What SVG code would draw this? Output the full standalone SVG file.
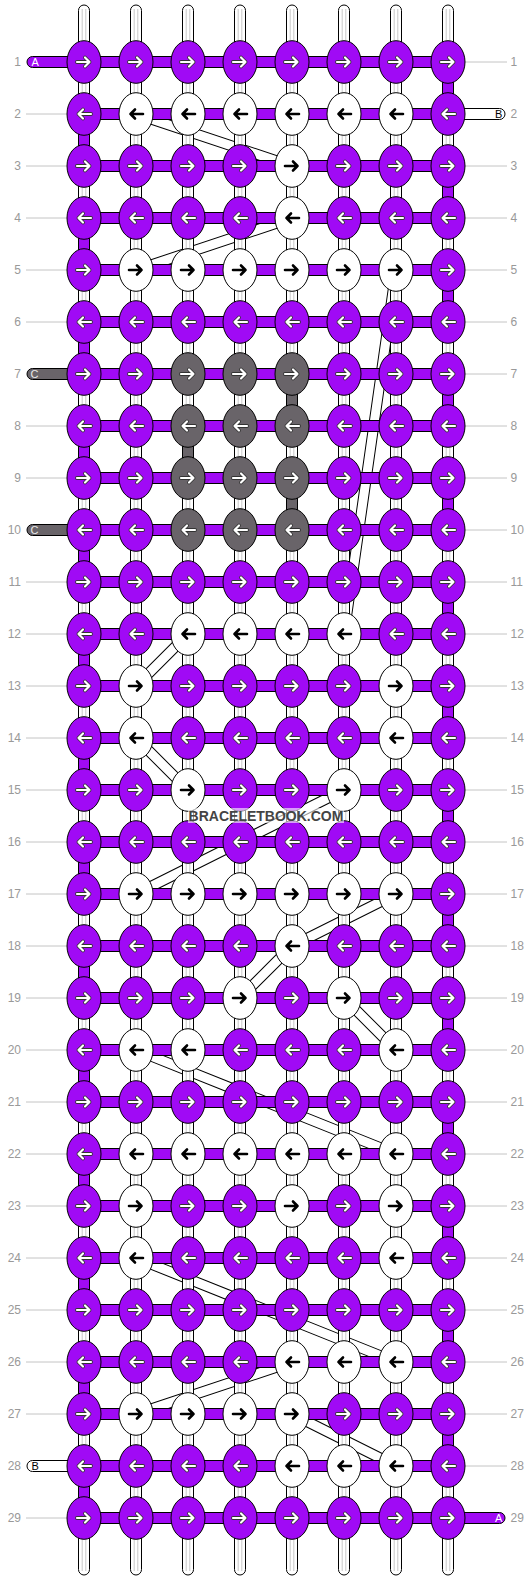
<svg xmlns="http://www.w3.org/2000/svg" xmlns:xlink="http://www.w3.org/1999/xlink" width="532" height="1580" viewBox="0 0 532 1580">
<style>
.p{fill:#a00af5;stroke:#000;stroke-width:1}
.w{fill:#fff;stroke:#000;stroke-width:1}
.g{fill:#696469;stroke:#000;stroke-width:1}
.gl{stroke:#c8c8c8;stroke-width:1;fill:none}
.bo{fill:none;stroke:#000;stroke-width:11}
.bi{fill:none;stroke:#fff;stroke-width:9}
.rl{stroke:#c4c4c4;stroke-width:1;fill:none}
.num{font-family:"Liberation Sans",Arial,sans-serif;font-size:12px;fill:#999}
.lab{font-family:"Liberation Sans",Arial,sans-serif;font-size:11px}
.wm{font-family:"Liberation Sans",Arial,sans-serif;font-size:14px;font-weight:bold;fill:#444}
</style>
<defs>
<ellipse id="e" rx="17" ry="21.3"/>
<path id="ar" d="M-7 0H5.5M1 -4.5L5.5 0L1 4.5" fill="none" stroke-linecap="round" stroke-linejoin="round"/>
<g id="RW"><use href="#ar" stroke="#333" stroke-width="3.8"/><use href="#ar" stroke="#fff" stroke-width="2.2"/></g>
<g id="LW" transform="scale(-1 1)"><use href="#RW"/></g>
<g id="RB"><use href="#ar" stroke="#000" stroke-width="2.6"/></g>
<g id="LB" transform="scale(-1 1)"><use href="#RB"/></g>
<g id="vcol"><rect x="-5.5" y="5" width="11" height="1570" rx="5.5" class="w"/><path d="M-1.8 9V1571M1.8 9V1571" class="gl"/></g>
<rect id="hb" x="84" y="-5.5" width="364" height="11"/>
<rect id="sg" x="-5.5" y="0" width="11" height="22"/>
</defs>
<rect width="532" height="1580" fill="#fff"/>

<g id="connectors">
<path class="bo" d="M136 114L292 166M292 218L136 270M396 270L344 634M188 634L136 686M136 738L188 790M344 790L136 894M396 894L292 946M292 946L240 998M344 998L396 1050M136 1050L396 1154M136 1258L396 1362M292 1362L136 1414M292 1414L396 1466"/>
<path class="bi" d="M136 114L292 166M292 218L136 270M396 270L344 634M188 634L136 686M136 738L188 790M344 790L136 894M396 894L292 946M292 946L240 998M344 998L396 1050M136 1050L396 1154M136 1258L396 1362M292 1362L136 1414M292 1414L396 1466"/>
</g>

<g id="strings">
<use href="#vcol" x="84"/><use href="#vcol" x="136"/><use href="#vcol" x="188"/><use href="#vcol" x="240"/>
<use href="#vcol" x="292"/><use href="#vcol" x="344"/><use href="#vcol" x="396"/><use href="#vcol" x="448"/>
<g class="p">
<use href="#sg" x="448" y="77"/><use href="#sg" x="448" y="181"/><use href="#sg" x="448" y="285"/><use href="#sg" x="448" y="389"/><use href="#sg" x="448" y="493"/><use href="#sg" x="448" y="597"/><use href="#sg" x="448" y="701"/><use href="#sg" x="448" y="805"/><use href="#sg" x="448" y="909"/><use href="#sg" x="448" y="1013"/><use href="#sg" x="448" y="1117"/><use href="#sg" x="448" y="1221"/><use href="#sg" x="448" y="1325"/><use href="#sg" x="448" y="1429"/>
<use href="#sg" x="84" y="129"/><use href="#sg" x="84" y="233"/><use href="#sg" x="84" y="337"/><use href="#sg" x="84" y="441"/><use href="#sg" x="84" y="545"/><use href="#sg" x="84" y="649"/><use href="#sg" x="84" y="753"/><use href="#sg" x="84" y="857"/><use href="#sg" x="84" y="961"/><use href="#sg" x="84" y="1065"/><use href="#sg" x="84" y="1169"/><use href="#sg" x="84" y="1273"/><use href="#sg" x="84" y="1377"/><use href="#sg" x="84" y="1481"/>
</g>
<g class="g">
<use href="#sg" x="292" y="389"/><use href="#sg" x="188" y="441"/><use href="#sg" x="292" y="493"/>
</g>
<g class="p">
<use href="#hb" y="62"/><use href="#hb" y="114"/><use href="#hb" y="166"/><use href="#hb" y="218"/><use href="#hb" y="270"/><use href="#hb" y="322"/><use href="#hb" y="374"/><use href="#hb" y="426"/><use href="#hb" y="478"/><use href="#hb" y="530"/><use href="#hb" y="582"/><use href="#hb" y="634"/><use href="#hb" y="686"/><use href="#hb" y="738"/><use href="#hb" y="790"/><use href="#hb" y="842"/><use href="#hb" y="894"/><use href="#hb" y="946"/><use href="#hb" y="998"/><use href="#hb" y="1050"/><use href="#hb" y="1102"/><use href="#hb" y="1154"/><use href="#hb" y="1206"/><use href="#hb" y="1258"/><use href="#hb" y="1310"/><use href="#hb" y="1362"/><use href="#hb" y="1414"/><use href="#hb" y="1466"/><use href="#hb" y="1518"/>
</g>
</g>

<g id="ends">
<rect x="27" y="56.5" width="60" height="11" rx="5.5" class="p"/><text x="31.5" y="66" class="lab" fill="#fff">A</text>
<rect x="27" y="368.5" width="60" height="11" rx="5.5" class="g"/><text x="30.5" y="378" class="lab" fill="#e8e8e8">C</text>
<rect x="27" y="524.5" width="60" height="11" rx="5.5" class="g"/><text x="30.5" y="534" class="lab" fill="#e8e8e8">C</text>
<rect x="27" y="1460.5" width="60" height="11" rx="5.5" class="w"/><text x="31.5" y="1470" class="lab" fill="#000">B</text>
<rect x="445" y="108.5" width="60" height="11" rx="5.5" class="w"/><text x="495" y="118" class="lab" fill="#000">B</text>
<rect x="445" y="1512.5" width="60" height="11" rx="5.5" class="p"/><text x="495" y="1522" class="lab" fill="#fff">A</text>
</g>

<g id="rowlines">
<path class="rl" d="M26 114H67M26 166H67M26 218H67M26 270H67M26 322H67M26 426H67M26 478H67M26 582H67M26 634H67M26 686H67M26 738H67M26 790H67M26 842H67M26 894H67M26 946H67M26 998H67M26 1050H67M26 1102H67M26 1154H67M26 1206H67M26 1258H67M26 1310H67M26 1362H67M26 1414H67M26 1518H67"/>
<path class="rl" d="M465 62H507M465 166H507M465 218H507M465 270H507M465 322H507M465 374H507M465 426H507M465 478H507M465 530H507M465 582H507M465 634H507M465 686H507M465 738H507M465 790H507M465 842H507M465 894H507M465 946H507M465 998H507M465 1050H507M465 1102H507M465 1154H507M465 1206H507M465 1258H507M465 1310H507M465 1362H507M465 1414H507M465 1466H507"/>
</g>

<g id="rownumbers" class="num">
<g text-anchor="end">
<text x="21" y="66">1</text><text x="21" y="118">2</text><text x="21" y="170">3</text><text x="21" y="222">4</text><text x="21" y="274">5</text><text x="21" y="326">6</text><text x="21" y="378">7</text><text x="21" y="430">8</text><text x="21" y="482">9</text><text x="21" y="534">10</text><text x="21" y="586">11</text><text x="21" y="638">12</text><text x="21" y="690">13</text><text x="21" y="742">14</text><text x="21" y="794">15</text><text x="21" y="846">16</text><text x="21" y="898">17</text><text x="21" y="950">18</text><text x="21" y="1002">19</text><text x="21" y="1054">20</text><text x="21" y="1106">21</text><text x="21" y="1158">22</text><text x="21" y="1210">23</text><text x="21" y="1262">24</text><text x="21" y="1314">25</text><text x="21" y="1366">26</text><text x="21" y="1418">27</text><text x="21" y="1470">28</text><text x="21" y="1522">29</text>
</g>
<g>
<text x="510.5" y="66">1</text><text x="510.5" y="118">2</text><text x="510.5" y="170">3</text><text x="510.5" y="222">4</text><text x="510.5" y="274">5</text><text x="510.5" y="326">6</text><text x="510.5" y="378">7</text><text x="510.5" y="430">8</text><text x="510.5" y="482">9</text><text x="510.5" y="534">10</text><text x="510.5" y="586">11</text><text x="510.5" y="638">12</text><text x="510.5" y="690">13</text><text x="510.5" y="742">14</text><text x="510.5" y="794">15</text><text x="510.5" y="846">16</text><text x="510.5" y="898">17</text><text x="510.5" y="950">18</text><text x="510.5" y="1002">19</text><text x="510.5" y="1054">20</text><text x="510.5" y="1106">21</text><text x="510.5" y="1158">22</text><text x="510.5" y="1210">23</text><text x="510.5" y="1262">24</text><text x="510.5" y="1314">25</text><text x="510.5" y="1366">26</text><text x="510.5" y="1418">27</text><text x="510.5" y="1470">28</text><text x="510.5" y="1522">29</text>
</g>
</g>

<g id="knots">
<g id="k1-1" transform="translate(84 62)"><use href="#e" class="p"/><use href="#RW"/></g>
<g id="k1-2" transform="translate(136 62)"><use href="#e" class="p"/><use href="#RW"/></g>
<g id="k1-3" transform="translate(188 62)"><use href="#e" class="p"/><use href="#RW"/></g>
<g id="k1-4" transform="translate(240 62)"><use href="#e" class="p"/><use href="#RW"/></g>
<g id="k1-5" transform="translate(292 62)"><use href="#e" class="p"/><use href="#RW"/></g>
<g id="k1-6" transform="translate(344 62)"><use href="#e" class="p"/><use href="#RW"/></g>
<g id="k1-7" transform="translate(396 62)"><use href="#e" class="p"/><use href="#RW"/></g>
<g id="k1-8" transform="translate(448 62)"><use href="#e" class="p"/><use href="#RW"/></g>

<g id="k2-1" transform="translate(84 114)"><use href="#e" class="p"/><use href="#LW"/></g>
<g id="k2-2" transform="translate(136 114)"><use href="#e" class="w"/><use href="#LB"/></g>
<g id="k2-3" transform="translate(188 114)"><use href="#e" class="w"/><use href="#LB"/></g>
<g id="k2-4" transform="translate(240 114)"><use href="#e" class="w"/><use href="#LB"/></g>
<g id="k2-5" transform="translate(292 114)"><use href="#e" class="w"/><use href="#LB"/></g>
<g id="k2-6" transform="translate(344 114)"><use href="#e" class="w"/><use href="#LB"/></g>
<g id="k2-7" transform="translate(396 114)"><use href="#e" class="w"/><use href="#LB"/></g>
<g id="k2-8" transform="translate(448 114)"><use href="#e" class="p"/><use href="#LW"/></g>

<g id="k3-1" transform="translate(84 166)"><use href="#e" class="p"/><use href="#RW"/></g>
<g id="k3-2" transform="translate(136 166)"><use href="#e" class="p"/><use href="#RW"/></g>
<g id="k3-3" transform="translate(188 166)"><use href="#e" class="p"/><use href="#RW"/></g>
<g id="k3-4" transform="translate(240 166)"><use href="#e" class="p"/><use href="#RW"/></g>
<g id="k3-5" transform="translate(292 166)"><use href="#e" class="w"/><use href="#RB"/></g>
<g id="k3-6" transform="translate(344 166)"><use href="#e" class="p"/><use href="#RW"/></g>
<g id="k3-7" transform="translate(396 166)"><use href="#e" class="p"/><use href="#RW"/></g>
<g id="k3-8" transform="translate(448 166)"><use href="#e" class="p"/><use href="#RW"/></g>

<g id="k4-1" transform="translate(84 218)"><use href="#e" class="p"/><use href="#LW"/></g>
<g id="k4-2" transform="translate(136 218)"><use href="#e" class="p"/><use href="#LW"/></g>
<g id="k4-3" transform="translate(188 218)"><use href="#e" class="p"/><use href="#LW"/></g>
<g id="k4-4" transform="translate(240 218)"><use href="#e" class="p"/><use href="#LW"/></g>
<g id="k4-5" transform="translate(292 218)"><use href="#e" class="w"/><use href="#LB"/></g>
<g id="k4-6" transform="translate(344 218)"><use href="#e" class="p"/><use href="#LW"/></g>
<g id="k4-7" transform="translate(396 218)"><use href="#e" class="p"/><use href="#LW"/></g>
<g id="k4-8" transform="translate(448 218)"><use href="#e" class="p"/><use href="#LW"/></g>

<g id="k5-1" transform="translate(84 270)"><use href="#e" class="p"/><use href="#RW"/></g>
<g id="k5-2" transform="translate(136 270)"><use href="#e" class="w"/><use href="#RB"/></g>
<g id="k5-3" transform="translate(188 270)"><use href="#e" class="w"/><use href="#RB"/></g>
<g id="k5-4" transform="translate(240 270)"><use href="#e" class="w"/><use href="#RB"/></g>
<g id="k5-5" transform="translate(292 270)"><use href="#e" class="w"/><use href="#RB"/></g>
<g id="k5-6" transform="translate(344 270)"><use href="#e" class="w"/><use href="#RB"/></g>
<g id="k5-7" transform="translate(396 270)"><use href="#e" class="w"/><use href="#RB"/></g>
<g id="k5-8" transform="translate(448 270)"><use href="#e" class="p"/><use href="#RW"/></g>

<g id="k6-1" transform="translate(84 322)"><use href="#e" class="p"/><use href="#LW"/></g>
<g id="k6-2" transform="translate(136 322)"><use href="#e" class="p"/><use href="#LW"/></g>
<g id="k6-3" transform="translate(188 322)"><use href="#e" class="p"/><use href="#LW"/></g>
<g id="k6-4" transform="translate(240 322)"><use href="#e" class="p"/><use href="#LW"/></g>
<g id="k6-5" transform="translate(292 322)"><use href="#e" class="p"/><use href="#LW"/></g>
<g id="k6-6" transform="translate(344 322)"><use href="#e" class="p"/><use href="#LW"/></g>
<g id="k6-7" transform="translate(396 322)"><use href="#e" class="p"/><use href="#LW"/></g>
<g id="k6-8" transform="translate(448 322)"><use href="#e" class="p"/><use href="#LW"/></g>

<g id="k7-1" transform="translate(84 374)"><use href="#e" class="p"/><use href="#RW"/></g>
<g id="k7-2" transform="translate(136 374)"><use href="#e" class="p"/><use href="#RW"/></g>
<g id="k7-3" transform="translate(188 374)"><use href="#e" class="g"/><use href="#RW"/></g>
<g id="k7-4" transform="translate(240 374)"><use href="#e" class="g"/><use href="#RW"/></g>
<g id="k7-5" transform="translate(292 374)"><use href="#e" class="g"/><use href="#RW"/></g>
<g id="k7-6" transform="translate(344 374)"><use href="#e" class="p"/><use href="#RW"/></g>
<g id="k7-7" transform="translate(396 374)"><use href="#e" class="p"/><use href="#RW"/></g>
<g id="k7-8" transform="translate(448 374)"><use href="#e" class="p"/><use href="#RW"/></g>

<g id="k8-1" transform="translate(84 426)"><use href="#e" class="p"/><use href="#LW"/></g>
<g id="k8-2" transform="translate(136 426)"><use href="#e" class="p"/><use href="#LW"/></g>
<g id="k8-3" transform="translate(188 426)"><use href="#e" class="g"/><use href="#LW"/></g>
<g id="k8-4" transform="translate(240 426)"><use href="#e" class="g"/><use href="#LW"/></g>
<g id="k8-5" transform="translate(292 426)"><use href="#e" class="g"/><use href="#LW"/></g>
<g id="k8-6" transform="translate(344 426)"><use href="#e" class="p"/><use href="#LW"/></g>
<g id="k8-7" transform="translate(396 426)"><use href="#e" class="p"/><use href="#LW"/></g>
<g id="k8-8" transform="translate(448 426)"><use href="#e" class="p"/><use href="#LW"/></g>

<g id="k9-1" transform="translate(84 478)"><use href="#e" class="p"/><use href="#RW"/></g>
<g id="k9-2" transform="translate(136 478)"><use href="#e" class="p"/><use href="#RW"/></g>
<g id="k9-3" transform="translate(188 478)"><use href="#e" class="g"/><use href="#RW"/></g>
<g id="k9-4" transform="translate(240 478)"><use href="#e" class="g"/><use href="#RW"/></g>
<g id="k9-5" transform="translate(292 478)"><use href="#e" class="g"/><use href="#RW"/></g>
<g id="k9-6" transform="translate(344 478)"><use href="#e" class="p"/><use href="#RW"/></g>
<g id="k9-7" transform="translate(396 478)"><use href="#e" class="p"/><use href="#RW"/></g>
<g id="k9-8" transform="translate(448 478)"><use href="#e" class="p"/><use href="#RW"/></g>

<g id="k10-1" transform="translate(84 530)"><use href="#e" class="p"/><use href="#LW"/></g>
<g id="k10-2" transform="translate(136 530)"><use href="#e" class="p"/><use href="#LW"/></g>
<g id="k10-3" transform="translate(188 530)"><use href="#e" class="g"/><use href="#LW"/></g>
<g id="k10-4" transform="translate(240 530)"><use href="#e" class="g"/><use href="#LW"/></g>
<g id="k10-5" transform="translate(292 530)"><use href="#e" class="g"/><use href="#LW"/></g>
<g id="k10-6" transform="translate(344 530)"><use href="#e" class="p"/><use href="#LW"/></g>
<g id="k10-7" transform="translate(396 530)"><use href="#e" class="p"/><use href="#LW"/></g>
<g id="k10-8" transform="translate(448 530)"><use href="#e" class="p"/><use href="#LW"/></g>

<g id="k11-1" transform="translate(84 582)"><use href="#e" class="p"/><use href="#RW"/></g>
<g id="k11-2" transform="translate(136 582)"><use href="#e" class="p"/><use href="#RW"/></g>
<g id="k11-3" transform="translate(188 582)"><use href="#e" class="p"/><use href="#RW"/></g>
<g id="k11-4" transform="translate(240 582)"><use href="#e" class="p"/><use href="#RW"/></g>
<g id="k11-5" transform="translate(292 582)"><use href="#e" class="p"/><use href="#RW"/></g>
<g id="k11-6" transform="translate(344 582)"><use href="#e" class="p"/><use href="#RW"/></g>
<g id="k11-7" transform="translate(396 582)"><use href="#e" class="p"/><use href="#RW"/></g>
<g id="k11-8" transform="translate(448 582)"><use href="#e" class="p"/><use href="#RW"/></g>

<g id="k12-1" transform="translate(84 634)"><use href="#e" class="p"/><use href="#LW"/></g>
<g id="k12-2" transform="translate(136 634)"><use href="#e" class="p"/><use href="#LW"/></g>
<g id="k12-3" transform="translate(188 634)"><use href="#e" class="w"/><use href="#LB"/></g>
<g id="k12-4" transform="translate(240 634)"><use href="#e" class="w"/><use href="#LB"/></g>
<g id="k12-5" transform="translate(292 634)"><use href="#e" class="w"/><use href="#LB"/></g>
<g id="k12-6" transform="translate(344 634)"><use href="#e" class="w"/><use href="#LB"/></g>
<g id="k12-7" transform="translate(396 634)"><use href="#e" class="p"/><use href="#LW"/></g>
<g id="k12-8" transform="translate(448 634)"><use href="#e" class="p"/><use href="#LW"/></g>

<g id="k13-1" transform="translate(84 686)"><use href="#e" class="p"/><use href="#RW"/></g>
<g id="k13-2" transform="translate(136 686)"><use href="#e" class="w"/><use href="#RB"/></g>
<g id="k13-3" transform="translate(188 686)"><use href="#e" class="p"/><use href="#RW"/></g>
<g id="k13-4" transform="translate(240 686)"><use href="#e" class="p"/><use href="#RW"/></g>
<g id="k13-5" transform="translate(292 686)"><use href="#e" class="p"/><use href="#RW"/></g>
<g id="k13-6" transform="translate(344 686)"><use href="#e" class="p"/><use href="#RW"/></g>
<g id="k13-7" transform="translate(396 686)"><use href="#e" class="w"/><use href="#RB"/></g>
<g id="k13-8" transform="translate(448 686)"><use href="#e" class="p"/><use href="#RW"/></g>

<g id="k14-1" transform="translate(84 738)"><use href="#e" class="p"/><use href="#LW"/></g>
<g id="k14-2" transform="translate(136 738)"><use href="#e" class="w"/><use href="#LB"/></g>
<g id="k14-3" transform="translate(188 738)"><use href="#e" class="p"/><use href="#LW"/></g>
<g id="k14-4" transform="translate(240 738)"><use href="#e" class="p"/><use href="#LW"/></g>
<g id="k14-5" transform="translate(292 738)"><use href="#e" class="p"/><use href="#LW"/></g>
<g id="k14-6" transform="translate(344 738)"><use href="#e" class="p"/><use href="#LW"/></g>
<g id="k14-7" transform="translate(396 738)"><use href="#e" class="w"/><use href="#LB"/></g>
<g id="k14-8" transform="translate(448 738)"><use href="#e" class="p"/><use href="#LW"/></g>

<g id="k15-1" transform="translate(84 790)"><use href="#e" class="p"/><use href="#RW"/></g>
<g id="k15-2" transform="translate(136 790)"><use href="#e" class="p"/><use href="#RW"/></g>
<g id="k15-3" transform="translate(188 790)"><use href="#e" class="w"/><use href="#RB"/></g>
<g id="k15-4" transform="translate(240 790)"><use href="#e" class="p"/><use href="#RW"/></g>
<g id="k15-5" transform="translate(292 790)"><use href="#e" class="p"/><use href="#RW"/></g>
<g id="k15-6" transform="translate(344 790)"><use href="#e" class="w"/><use href="#RB"/></g>
<g id="k15-7" transform="translate(396 790)"><use href="#e" class="p"/><use href="#RW"/></g>
<g id="k15-8" transform="translate(448 790)"><use href="#e" class="p"/><use href="#RW"/></g>

<g id="k16-1" transform="translate(84 842)"><use href="#e" class="p"/><use href="#LW"/></g>
<g id="k16-2" transform="translate(136 842)"><use href="#e" class="p"/><use href="#LW"/></g>
<g id="k16-3" transform="translate(188 842)"><use href="#e" class="p"/><use href="#LW"/></g>
<g id="k16-4" transform="translate(240 842)"><use href="#e" class="p"/><use href="#LW"/></g>
<g id="k16-5" transform="translate(292 842)"><use href="#e" class="p"/><use href="#LW"/></g>
<g id="k16-6" transform="translate(344 842)"><use href="#e" class="p"/><use href="#LW"/></g>
<g id="k16-7" transform="translate(396 842)"><use href="#e" class="p"/><use href="#LW"/></g>
<g id="k16-8" transform="translate(448 842)"><use href="#e" class="p"/><use href="#LW"/></g>

<g id="k17-1" transform="translate(84 894)"><use href="#e" class="p"/><use href="#RW"/></g>
<g id="k17-2" transform="translate(136 894)"><use href="#e" class="w"/><use href="#RB"/></g>
<g id="k17-3" transform="translate(188 894)"><use href="#e" class="w"/><use href="#RB"/></g>
<g id="k17-4" transform="translate(240 894)"><use href="#e" class="w"/><use href="#RB"/></g>
<g id="k17-5" transform="translate(292 894)"><use href="#e" class="w"/><use href="#RB"/></g>
<g id="k17-6" transform="translate(344 894)"><use href="#e" class="w"/><use href="#RB"/></g>
<g id="k17-7" transform="translate(396 894)"><use href="#e" class="w"/><use href="#RB"/></g>
<g id="k17-8" transform="translate(448 894)"><use href="#e" class="p"/><use href="#RW"/></g>

<g id="k18-1" transform="translate(84 946)"><use href="#e" class="p"/><use href="#LW"/></g>
<g id="k18-2" transform="translate(136 946)"><use href="#e" class="p"/><use href="#LW"/></g>
<g id="k18-3" transform="translate(188 946)"><use href="#e" class="p"/><use href="#LW"/></g>
<g id="k18-4" transform="translate(240 946)"><use href="#e" class="p"/><use href="#LW"/></g>
<g id="k18-5" transform="translate(292 946)"><use href="#e" class="w"/><use href="#LB"/></g>
<g id="k18-6" transform="translate(344 946)"><use href="#e" class="p"/><use href="#LW"/></g>
<g id="k18-7" transform="translate(396 946)"><use href="#e" class="p"/><use href="#LW"/></g>
<g id="k18-8" transform="translate(448 946)"><use href="#e" class="p"/><use href="#LW"/></g>

<g id="k19-1" transform="translate(84 998)"><use href="#e" class="p"/><use href="#RW"/></g>
<g id="k19-2" transform="translate(136 998)"><use href="#e" class="p"/><use href="#RW"/></g>
<g id="k19-3" transform="translate(188 998)"><use href="#e" class="p"/><use href="#RW"/></g>
<g id="k19-4" transform="translate(240 998)"><use href="#e" class="w"/><use href="#RB"/></g>
<g id="k19-5" transform="translate(292 998)"><use href="#e" class="p"/><use href="#RW"/></g>
<g id="k19-6" transform="translate(344 998)"><use href="#e" class="w"/><use href="#RB"/></g>
<g id="k19-7" transform="translate(396 998)"><use href="#e" class="p"/><use href="#RW"/></g>
<g id="k19-8" transform="translate(448 998)"><use href="#e" class="p"/><use href="#RW"/></g>

<g id="k20-1" transform="translate(84 1050)"><use href="#e" class="p"/><use href="#LW"/></g>
<g id="k20-2" transform="translate(136 1050)"><use href="#e" class="w"/><use href="#LB"/></g>
<g id="k20-3" transform="translate(188 1050)"><use href="#e" class="w"/><use href="#LB"/></g>
<g id="k20-4" transform="translate(240 1050)"><use href="#e" class="p"/><use href="#LW"/></g>
<g id="k20-5" transform="translate(292 1050)"><use href="#e" class="p"/><use href="#LW"/></g>
<g id="k20-6" transform="translate(344 1050)"><use href="#e" class="p"/><use href="#LW"/></g>
<g id="k20-7" transform="translate(396 1050)"><use href="#e" class="w"/><use href="#LB"/></g>
<g id="k20-8" transform="translate(448 1050)"><use href="#e" class="p"/><use href="#LW"/></g>

<g id="k21-1" transform="translate(84 1102)"><use href="#e" class="p"/><use href="#RW"/></g>
<g id="k21-2" transform="translate(136 1102)"><use href="#e" class="p"/><use href="#RW"/></g>
<g id="k21-3" transform="translate(188 1102)"><use href="#e" class="p"/><use href="#RW"/></g>
<g id="k21-4" transform="translate(240 1102)"><use href="#e" class="p"/><use href="#RW"/></g>
<g id="k21-5" transform="translate(292 1102)"><use href="#e" class="p"/><use href="#RW"/></g>
<g id="k21-6" transform="translate(344 1102)"><use href="#e" class="p"/><use href="#RW"/></g>
<g id="k21-7" transform="translate(396 1102)"><use href="#e" class="p"/><use href="#RW"/></g>
<g id="k21-8" transform="translate(448 1102)"><use href="#e" class="p"/><use href="#RW"/></g>

<g id="k22-1" transform="translate(84 1154)"><use href="#e" class="p"/><use href="#LW"/></g>
<g id="k22-2" transform="translate(136 1154)"><use href="#e" class="w"/><use href="#LB"/></g>
<g id="k22-3" transform="translate(188 1154)"><use href="#e" class="w"/><use href="#LB"/></g>
<g id="k22-4" transform="translate(240 1154)"><use href="#e" class="w"/><use href="#LB"/></g>
<g id="k22-5" transform="translate(292 1154)"><use href="#e" class="w"/><use href="#LB"/></g>
<g id="k22-6" transform="translate(344 1154)"><use href="#e" class="w"/><use href="#LB"/></g>
<g id="k22-7" transform="translate(396 1154)"><use href="#e" class="w"/><use href="#LB"/></g>
<g id="k22-8" transform="translate(448 1154)"><use href="#e" class="p"/><use href="#LW"/></g>

<g id="k23-1" transform="translate(84 1206)"><use href="#e" class="p"/><use href="#RW"/></g>
<g id="k23-2" transform="translate(136 1206)"><use href="#e" class="w"/><use href="#RB"/></g>
<g id="k23-3" transform="translate(188 1206)"><use href="#e" class="p"/><use href="#RW"/></g>
<g id="k23-4" transform="translate(240 1206)"><use href="#e" class="p"/><use href="#RW"/></g>
<g id="k23-5" transform="translate(292 1206)"><use href="#e" class="w"/><use href="#RB"/></g>
<g id="k23-6" transform="translate(344 1206)"><use href="#e" class="p"/><use href="#RW"/></g>
<g id="k23-7" transform="translate(396 1206)"><use href="#e" class="w"/><use href="#RB"/></g>
<g id="k23-8" transform="translate(448 1206)"><use href="#e" class="p"/><use href="#RW"/></g>

<g id="k24-1" transform="translate(84 1258)"><use href="#e" class="p"/><use href="#LW"/></g>
<g id="k24-2" transform="translate(136 1258)"><use href="#e" class="w"/><use href="#LB"/></g>
<g id="k24-3" transform="translate(188 1258)"><use href="#e" class="p"/><use href="#LW"/></g>
<g id="k24-4" transform="translate(240 1258)"><use href="#e" class="p"/><use href="#LW"/></g>
<g id="k24-5" transform="translate(292 1258)"><use href="#e" class="p"/><use href="#LW"/></g>
<g id="k24-6" transform="translate(344 1258)"><use href="#e" class="p"/><use href="#LW"/></g>
<g id="k24-7" transform="translate(396 1258)"><use href="#e" class="w"/><use href="#LB"/></g>
<g id="k24-8" transform="translate(448 1258)"><use href="#e" class="p"/><use href="#LW"/></g>

<g id="k25-1" transform="translate(84 1310)"><use href="#e" class="p"/><use href="#RW"/></g>
<g id="k25-2" transform="translate(136 1310)"><use href="#e" class="p"/><use href="#RW"/></g>
<g id="k25-3" transform="translate(188 1310)"><use href="#e" class="p"/><use href="#RW"/></g>
<g id="k25-4" transform="translate(240 1310)"><use href="#e" class="p"/><use href="#RW"/></g>
<g id="k25-5" transform="translate(292 1310)"><use href="#e" class="p"/><use href="#RW"/></g>
<g id="k25-6" transform="translate(344 1310)"><use href="#e" class="p"/><use href="#RW"/></g>
<g id="k25-7" transform="translate(396 1310)"><use href="#e" class="p"/><use href="#RW"/></g>
<g id="k25-8" transform="translate(448 1310)"><use href="#e" class="p"/><use href="#RW"/></g>

<g id="k26-1" transform="translate(84 1362)"><use href="#e" class="p"/><use href="#LW"/></g>
<g id="k26-2" transform="translate(136 1362)"><use href="#e" class="p"/><use href="#LW"/></g>
<g id="k26-3" transform="translate(188 1362)"><use href="#e" class="p"/><use href="#LW"/></g>
<g id="k26-4" transform="translate(240 1362)"><use href="#e" class="p"/><use href="#LW"/></g>
<g id="k26-5" transform="translate(292 1362)"><use href="#e" class="w"/><use href="#LB"/></g>
<g id="k26-6" transform="translate(344 1362)"><use href="#e" class="w"/><use href="#LB"/></g>
<g id="k26-7" transform="translate(396 1362)"><use href="#e" class="w"/><use href="#LB"/></g>
<g id="k26-8" transform="translate(448 1362)"><use href="#e" class="p"/><use href="#LW"/></g>

<g id="k27-1" transform="translate(84 1414)"><use href="#e" class="p"/><use href="#RW"/></g>
<g id="k27-2" transform="translate(136 1414)"><use href="#e" class="w"/><use href="#RB"/></g>
<g id="k27-3" transform="translate(188 1414)"><use href="#e" class="w"/><use href="#RB"/></g>
<g id="k27-4" transform="translate(240 1414)"><use href="#e" class="w"/><use href="#RB"/></g>
<g id="k27-5" transform="translate(292 1414)"><use href="#e" class="w"/><use href="#RB"/></g>
<g id="k27-6" transform="translate(344 1414)"><use href="#e" class="p"/><use href="#RW"/></g>
<g id="k27-7" transform="translate(396 1414)"><use href="#e" class="p"/><use href="#RW"/></g>
<g id="k27-8" transform="translate(448 1414)"><use href="#e" class="p"/><use href="#RW"/></g>

<g id="k28-1" transform="translate(84 1466)"><use href="#e" class="p"/><use href="#LW"/></g>
<g id="k28-2" transform="translate(136 1466)"><use href="#e" class="p"/><use href="#LW"/></g>
<g id="k28-3" transform="translate(188 1466)"><use href="#e" class="p"/><use href="#LW"/></g>
<g id="k28-4" transform="translate(240 1466)"><use href="#e" class="p"/><use href="#LW"/></g>
<g id="k28-5" transform="translate(292 1466)"><use href="#e" class="w"/><use href="#LB"/></g>
<g id="k28-6" transform="translate(344 1466)"><use href="#e" class="w"/><use href="#LB"/></g>
<g id="k28-7" transform="translate(396 1466)"><use href="#e" class="w"/><use href="#LB"/></g>
<g id="k28-8" transform="translate(448 1466)"><use href="#e" class="p"/><use href="#LW"/></g>

<g id="k29-1" transform="translate(84 1518)"><use href="#e" class="p"/><use href="#RW"/></g>
<g id="k29-2" transform="translate(136 1518)"><use href="#e" class="p"/><use href="#RW"/></g>
<g id="k29-3" transform="translate(188 1518)"><use href="#e" class="p"/><use href="#RW"/></g>
<g id="k29-4" transform="translate(240 1518)"><use href="#e" class="p"/><use href="#RW"/></g>
<g id="k29-5" transform="translate(292 1518)"><use href="#e" class="p"/><use href="#RW"/></g>
<g id="k29-6" transform="translate(344 1518)"><use href="#e" class="p"/><use href="#RW"/></g>
<g id="k29-7" transform="translate(396 1518)"><use href="#e" class="p"/><use href="#RW"/></g>
<g id="k29-8" transform="translate(448 1518)"><use href="#e" class="p"/><use href="#RW"/></g>
</g>

<g id="watermark">
<rect x="188" y="808" width="156" height="15" fill="#fff" fill-opacity="0.6"/>
<text x="266" y="821" text-anchor="middle" class="wm">BRACELETBOOK.COM</text>
</g>
</svg>
